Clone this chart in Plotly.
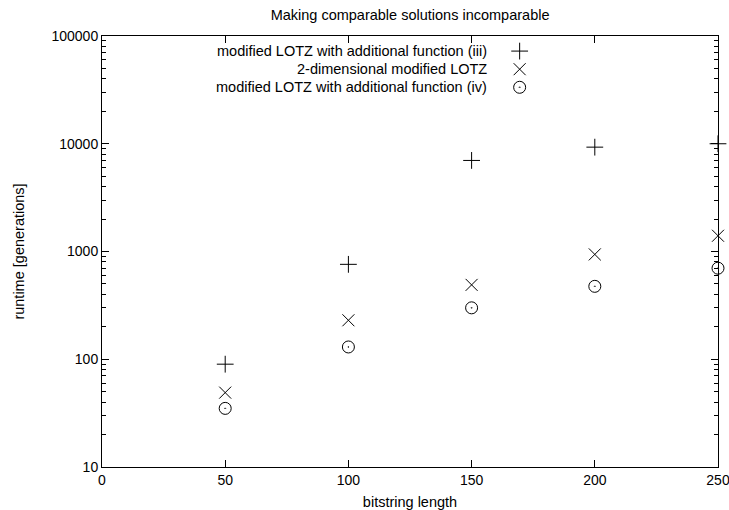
import plotly.graph_objects as go

lengths = [50, 100, 150, 200, 250]
iii_vals = [90, 760, 7000, 9300, 10000]
two_dim_vals = [49, 230, 490, 940, 1400]
iv_vals = [35, 130, 300, 475, 700]

names = ["modified LOTZ with additional function (iii)",
         "2-dimensional modified LOTZ",
         "modified LOTZ with additional function (iv)"]
symbols = ["cross-thin-open", "x-thin-open", "circle-open-dot"]
series = [iii_vals, two_dim_vals, iv_vals]

x_ticks = [0, 50, 100, 150, 200, 250]
y_ticks = [10, 100, 1000, 10000, 100000]
y_tick_text = ["10", "100", "1000", "10000", "100000"]

FONT = "Liberation Sans, Arial, sans-serif"
TXT = 14.5

fig = go.Figure()
for nm, sym, vals in zip(names, symbols, series):
    fig.add_trace(go.Scatter(
        x=lengths, y=vals, mode="markers", name=nm, showlegend=False,
        marker=dict(symbol=sym, size=12, color="black",
                    line=dict(color="black", width=1)),
        cliponaxis=False))

# legend keys (symbols right of text, gnuplot style) on hidden overlay axes
leg_y = [0.965, 0.923, 0.881]
fig.add_trace(go.Scatter(
    x=[0.678] * 3, y=leg_y, mode="markers", xaxis="x2", yaxis="y2",
    showlegend=False, hoverinfo="skip",
    marker=dict(symbol=symbols, size=12, color="black",
                line=dict(color="black", width=1))))
for nm, yy in zip(names, leg_y):
    fig.add_annotation(x=0.628, y=yy, xref="paper", yref="paper", text=nm,
                       showarrow=False, xanchor="right", yanchor="middle",
                       font=dict(size=TXT, color="black", family=FONT))

axis_common = dict(showline=True, linecolor="black", linewidth=1, mirror="allticks",
                   ticks="inside", ticklen=7, tickcolor="black", tickwidth=1,
                   showgrid=False, zeroline=False, automargin=False,
                   ticklabeloverflow="allow",
                   tickfont=dict(size=14, color="black", family=FONT))

fig.update_layout(
    width=729, height=510,
    margin=dict(l=102, r=11, t=36, b=43),
    paper_bgcolor="white", plot_bgcolor="white",
    font=dict(family=FONT, size=TXT, color="black"),
    title=dict(text="Making comparable solutions incomparable", x=0.5625, xanchor="center",
               y=0.97, yanchor="middle", font=dict(size=TXT, color="black", family=FONT)),
    xaxis=dict(range=[0, 250], tickvals=x_ticks,
               title=dict(text="bitstring length", standoff=10,
                          font=dict(size=TXT, color="black", family=FONT)),
               **axis_common),
    yaxis=dict(type="log", range=[1, 5], tickvals=y_ticks, ticktext=y_tick_text,
               title=dict(text="runtime [generations]", standoff=23,
                          font=dict(size=TXT, color="black", family=FONT)),
               minor=dict(ticks="inside", ticklen=4, tickcolor="black", dtick="D1"),
               **axis_common),
    xaxis2=dict(overlaying="x", range=[0, 1], visible=False, fixedrange=True),
    yaxis2=dict(overlaying="y", range=[0, 1], visible=False, fixedrange=True),
)

fig.write_html("out.html")
